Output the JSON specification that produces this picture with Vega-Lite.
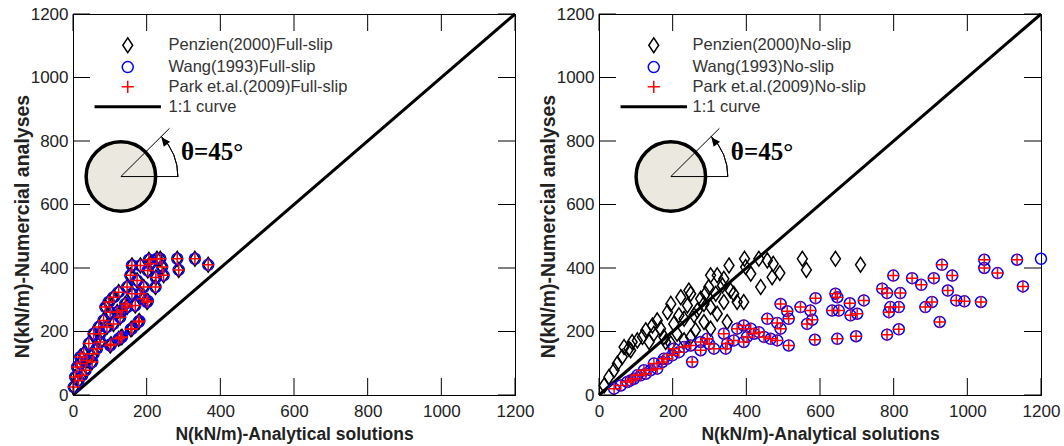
{
"$schema": "https://vega.github.io/schema/vega-lite/v6.json",
"background": "white",
"padding": {"left": 11, "top": 4, "right": 5, "bottom": 2},
"bounds": "flush",
"spacing": 84,
"config": {
  "view": {"stroke": "black", "strokeWidth": 1},
  "axis": {"grid": false, "ticks": false, "domain": true, "domainColor": "black", "domainWidth": 1, "format": "d",
    "labelFont": "Liberation Sans", "labelFontSize": 17, "labelColor": "#222", "labelFlush": false, "labelOverlap": false,
    "titleFont": "Liberation Sans", "titleFontWeight": "bold", "titleColor": "#222"},
  "axisX": {"labelPadding": 8, "titleFontSize": 17.5, "titleBaseline": "alphabetic", "titleY": 44},
  "axisY": {"labelPadding": 5, "titleFontSize": 19.5, "titleBaseline": "alphabetic", "titleX": -45, "titleY": 212}
},
"datasets": {
  "one": [{}],
  "tickvals": [{"v":0},{"v":200},{"v":400},{"v":600},{"v":800},{"v":1000},{"v":1200}],
  "left": [
    {"x":367,"y":410},{"x":331,"y":429},{"x":283,"y":429},{"x":287,"y":394},{"x":237,"y":429},{"x":228,"y":429},{"x":206,"y":426},{"x":183,"y":408},{"x":203,"y":392},{"x":242,"y":403},
    {"x":246,"y":377},{"x":224,"y":340},{"x":156,"y":377},{"x":174,"y":361},{"x":192,"y":340},{"x":183,"y":319},{"x":201,"y":293},{"x":160,"y":319},{"x":147,"y":340},{"x":124,"y":324},
    {"x":97,"y":293},{"x":110,"y":308},{"x":142,"y":287},{"x":120,"y":261},{"x":101,"y":261},{"x":83,"y":235},{"x":92,"y":214},{"x":70,"y":214},{"x":56,"y":193},{"x":43,"y":162},
    {"x":29,"y":130},{"x":20,"y":99},{"x":6,"y":57},{"x":2,"y":25},{"x":178,"y":230},{"x":160,"y":209},{"x":133,"y":183},{"x":101,"y":156},{"x":124,"y":177},{"x":74,"y":167},
    {"x":52,"y":104},{"x":34,"y":78},{"x":15,"y":46},{"x":65,"y":146},{"x":147,"y":277},{"x":169,"y":282},{"x":192,"y":303},{"x":128,"y":245},{"x":110,"y":224},{"x":74,"y":193},
    {"x":56,"y":130},{"x":38,"y":109},{"x":210,"y":413},{"x":160,"y":408},{"x":133,"y":266},{"x":88,"y":277},{"x":20,"y":120},{"x":11,"y":88},{"x":25,"y":62},{"x":225,"y":370},
    {"x":203,"y":296},{"x":180,"y":233},{"x":157,"y":207},{"x":130,"y":181},{"x":103,"y":160}
  ],
  "rightP": [
    {"x":642,"y":429},{"x":710,"y":410},{"x":552,"y":429},{"x":563,"y":394},{"x":491,"y":384},{"x":470,"y":371},{"x":473,"y":413},{"x":457,"y":424},{"x":434,"y":429},{"x":412,"y":382},
    {"x":395,"y":429},{"x":398,"y":403},{"x":439,"y":340},{"x":393,"y":293},{"x":375,"y":293},{"x":357,"y":329},{"x":353,"y":408},{"x":339,"y":366},{"x":321,"y":377},{"x":303,"y":377},
    {"x":298,"y":340},{"x":289,"y":319},{"x":339,"y":293},{"x":321,"y":256},{"x":348,"y":230},{"x":303,"y":277},{"x":276,"y":303},{"x":249,"y":319},{"x":244,"y":329},{"x":222,"y":308},
    {"x":195,"y":287},{"x":186,"y":261},{"x":217,"y":251},{"x":258,"y":251},{"x":285,"y":230},{"x":262,"y":204},{"x":249,"y":183},{"x":303,"y":209},{"x":203,"y":224},{"x":167,"y":209},
    {"x":145,"y":219},{"x":149,"y":193},{"x":118,"y":183},{"x":104,"y":172},{"x":90,"y":167},{"x":81,"y":146},{"x":63,"y":120},{"x":50,"y":99},{"x":41,"y":78},{"x":27,"y":57},
    {"x":14,"y":30},{"x":176,"y":183},{"x":195,"y":162},{"x":212,"y":193},{"x":231,"y":240},{"x":158,"y":235},{"x":127,"y":204},{"x":86,"y":141},{"x":68,"y":151},{"x":231,"y":172},
    {"x":267,"y":266},{"x":240,"y":282},{"x":181,"y":167},{"x":136,"y":167},{"x":285,"y":287},{"x":317,"y":319},{"x":366,"y":319},{"x":335,"y":345}
  ],
  "rightWK": [
    {"x":1200,"y":429},{"x":1135,"y":426},{"x":1151,"y":342},{"x":1082,"y":384},{"x":1046,"y":426},{"x":1046,"y":400},{"x":1037,"y":293},{"x":992,"y":295},{"x":970,"y":298},{"x":947,"y":329},
    {"x":959,"y":376},{"x":931,"y":410},{"x":909,"y":368},{"x":904,"y":293},{"x":886,"y":277},{"x":925,"y":230},{"x":875,"y":347},{"x":850,"y":368},{"x":799,"y":376},{"x":818,"y":321},
    {"x":782,"y":321},{"x":769,"y":335},{"x":791,"y":277},{"x":814,"y":277},{"x":787,"y":261},{"x":814,"y":207},{"x":782,"y":190},{"x":719,"y":298},{"x":681,"y":289},{"x":701,"y":256},
    {"x":683,"y":251},{"x":642,"y":319},{"x":647,"y":308},{"x":633,"y":266},{"x":651,"y":266},{"x":698,"y":185},{"x":647,"y":177},{"x":586,"y":174},{"x":588,"y":305},{"x":565,"y":224},
    {"x":579,"y":237},{"x":574,"y":266},{"x":547,"y":277},{"x":515,"y":240},{"x":515,"y":156},{"x":511,"y":264},{"x":493,"y":287},{"x":484,"y":227},{"x":484,"y":172},{"x":493,"y":209},
    {"x":457,"y":240},{"x":448,"y":183},{"x":466,"y":177},{"x":434,"y":198},{"x":412,"y":209},{"x":393,"y":219},{"x":375,"y":209},{"x":393,"y":167},{"x":366,"y":172},{"x":339,"y":193},
    {"x":348,"y":162},{"x":344,"y":146},{"x":312,"y":146},{"x":294,"y":177},{"x":276,"y":167},{"x":276,"y":141},{"x":253,"y":104},{"x":249,"y":156},{"x":231,"y":151},{"x":217,"y":135},
    {"x":199,"y":125},{"x":185,"y":114},{"x":172,"y":104},{"x":158,"y":83},{"x":140,"y":78},{"x":127,"y":67},{"x":113,"y":62},{"x":95,"y":51},{"x":77,"y":41},{"x":59,"y":30},
    {"x":41,"y":20},{"x":203,"y":146},{"x":176,"y":114},{"x":149,"y":99},{"x":122,"y":78},{"x":104,"y":62},{"x":86,"y":46},{"x":402,"y":183},{"x":421,"y":193},{"x":299,"y":161}
  ]
},
"hconcat": [
  {
    "width": 442, "height": 381,
    "layer": [
      {"data": {"name": "one"}, "mark": {"type": "rule", "strokeWidth": 3, "color": "black"},
       "encoding": {
         "x": {"datum": 0, "type": "quantitative", "scale": {"domain": [0, 1200], "nice": false, "zero": false}, "axis": {"title": "N(kN/m)-Analytical solutions", "values": [0,200,400,600,800,1000,1200], "format": "d"}},
         "y": {"datum": 0, "type": "quantitative", "scale": {"domain": [0, 1200], "nice": false, "zero": false}, "axis": {"title": "N(kN/m)-Numercial analyses", "values": [0,200,400,600,800,1000,1200], "format": "d"}},
         "x2": {"datum": 1200}, "y2": {"datum": 1200}}},
      {"data": {"name": "one"}, "mark": {"type": "point", "shape": "circle", "filled": true, "fill": "#ebe9df", "stroke": "black", "strokeWidth": 3.5, "size": 4830, "opacity": 1},
       "encoding": {"x": {"datum": 130, "type": "quantitative"}, "y": {"datum": 688, "type": "quantitative"}}},
      {"data": {"name": "one"}, "mark": {"type": "rule", "strokeWidth": 1, "color": "black"},
       "encoding": {"x": {"datum": 130, "type": "quantitative"}, "y": {"datum": 688, "type": "quantitative"}, "x2": {"datum": 262}, "y2": {"datum": 840}}},
      {"data": {"name": "one"}, "mark": {"type": "rule", "strokeWidth": 1, "color": "black"},
       "encoding": {"x": {"datum": 130, "type": "quantitative"}, "y": {"datum": 688, "type": "quantitative"}, "x2": {"datum": 286}}},
      {"data": {"name": "one"}, "mark": {"type": "arc", "radius": 57, "radius2": 57, "theta": 0.785, "theta2": 1.5708, "filled": false, "stroke": "black", "strokeWidth": 1},
       "encoding": {"x": {"datum": 130, "type": "quantitative"}, "y": {"datum": 688, "type": "quantitative"}}},
      {"data": {"name": "one"}, "mark": {"type": "point", "shape": "M0,-1.2L0.8,0.6L-0.8,0.6Z", "filled": true, "color": "black", "size": 100, "angle": 322, "opacity": 1},
       "encoding": {"x": {"datum": 250, "type": "quantitative"}, "y": {"datum": 797, "type": "quantitative"}}},
      {"data": {"name": "one"}, "mark": {"type": "text", "text": "θ=45°", "font": "Liberation Serif", "fontSize": 25, "fontWeight": "bold", "align": "left", "baseline": "alphabetic", "color": "black"},
       "encoding": {"x": {"datum": 293, "type": "quantitative"}, "y": {"datum": 739, "type": "quantitative"}}},
      {"data": {"name": "left"},
       "mark": {"type": "point", "filled": false, "strokeWidth": 1.5, "size": 121, "opacity": 1},
       "encoding": {
         "x": {"field": "x", "type": "quantitative"}, "y": {"field": "y", "type": "quantitative"},
         "color": {"datum": "Penzien(2000)Full-slip", "type": "nominal",
           "scale": {"domain": ["Penzien(2000)Full-slip", "Wang(1993)Full-slip", "Park et.al.(2009)Full-slip", "1:1 curve"], "range": ["#000000", "#0000ff", "#ff0000", "#000000"]},
           "legend": {"orient": "none", "legendX": 46.5, "legendY": 23, "title": null, "padding": 0, "labelFont": "Liberation Sans", "labelFontSize": 16.5, "labelColor": "#333", "labelLimit": 400, "symbolSize": 121, "symbolStrokeWidth": 1.5, "labelOffset": 32.5, "rowPadding": 1.8}},
         "shape": {"datum": "Penzien(2000)Full-slip", "type": "nominal",
           "scale": {"domain": ["Penzien(2000)Full-slip", "Wang(1993)Full-slip", "Park et.al.(2009)Full-slip", "1:1 curve"], "range": ["M0,-1.35L0.9,0L0,1.35L-0.9,0Z", "circle", "M-1.1,0H1.1M0,-1.1V1.1", "M-5.9,-0.14H5.9V0.14H-5.9Z"]},
           "legend": {"orient": "none", "legendX": 46.5, "legendY": 23, "title": null, "padding": 0, "labelFont": "Liberation Sans", "labelFontSize": 16.5, "labelColor": "#333", "labelLimit": 400, "symbolSize": 121, "symbolStrokeWidth": 1.5, "labelOffset": 32.5, "rowPadding": 1.8}}}},
      {"data": {"name": "left"},
       "mark": {"type": "point", "filled": false, "strokeWidth": 1.5, "size": 121, "opacity": 1},
       "encoding": {
         "x": {"field": "x", "type": "quantitative"}, "y": {"field": "y", "type": "quantitative"},
         "color": {"datum": "Wang(1993)Full-slip", "type": "nominal"},
         "shape": {"datum": "Wang(1993)Full-slip", "type": "nominal"}}},
      {"data": {"name": "left"},
       "mark": {"type": "point", "filled": false, "strokeWidth": 1.5, "size": 121, "opacity": 1},
       "encoding": {
         "x": {"field": "x", "type": "quantitative"}, "y": {"field": "y", "type": "quantitative"},
         "color": {"datum": "Park et.al.(2009)Full-slip", "type": "nominal"},
         "shape": {"datum": "Park et.al.(2009)Full-slip", "type": "nominal"}}},
      {"data": {"name": "tickvals"}, "mark": {"type": "rule", "color": "black", "strokeWidth": 1, "strokeDash": [17, 347], "opacity": 1},
       "encoding": {"x": {"field": "v", "type": "quantitative"}}},
      {"data": {"name": "tickvals"}, "mark": {"type": "rule", "color": "black", "strokeWidth": 1, "strokeDash": [17, 408], "opacity": 1},
       "encoding": {"y": {"field": "v", "type": "quantitative"}}}
    ]
  },
  {
    "width": 442, "height": 381,
    "layer": [
      {"data": {"name": "one"}, "mark": {"type": "rule", "strokeWidth": 3, "color": "black"},
       "encoding": {
         "x": {"datum": 0, "type": "quantitative", "scale": {"domain": [0, 1200], "nice": false, "zero": false}, "axis": {"title": "N(kN/m)-Analytical solutions", "values": [0,200,400,600,800,1000,1200], "format": "d"}},
         "y": {"datum": 0, "type": "quantitative", "scale": {"domain": [0, 1200], "nice": false, "zero": false}, "axis": {"title": "N(kN/m)-Numercial analyses", "values": [0,200,400,600,800,1000,1200], "format": "d"}},
         "x2": {"datum": 1200}, "y2": {"datum": 1200}}},
      {"data": {"name": "one"}, "mark": {"type": "point", "shape": "circle", "filled": true, "fill": "#ebe9df", "stroke": "black", "strokeWidth": 3.5, "size": 4830, "opacity": 1},
       "encoding": {"x": {"datum": 195, "type": "quantitative"}, "y": {"datum": 688, "type": "quantitative"}}},
      {"data": {"name": "one"}, "mark": {"type": "rule", "strokeWidth": 1, "color": "black"},
       "encoding": {"x": {"datum": 195, "type": "quantitative"}, "y": {"datum": 688, "type": "quantitative"}, "x2": {"datum": 327}, "y2": {"datum": 840}}},
      {"data": {"name": "one"}, "mark": {"type": "rule", "strokeWidth": 1, "color": "black"},
       "encoding": {"x": {"datum": 195, "type": "quantitative"}, "y": {"datum": 688, "type": "quantitative"}, "x2": {"datum": 350}}},
      {"data": {"name": "one"}, "mark": {"type": "arc", "radius": 57, "radius2": 57, "theta": 0.785, "theta2": 1.5708, "filled": false, "stroke": "black", "strokeWidth": 1},
       "encoding": {"x": {"datum": 195, "type": "quantitative"}, "y": {"datum": 688, "type": "quantitative"}}},
      {"data": {"name": "one"}, "mark": {"type": "point", "shape": "M0,-1.2L0.8,0.6L-0.8,0.6Z", "filled": true, "color": "black", "size": 100, "angle": 322, "opacity": 1},
       "encoding": {"x": {"datum": 315, "type": "quantitative"}, "y": {"datum": 797, "type": "quantitative"}}},
      {"data": {"name": "one"}, "mark": {"type": "text", "text": "θ=45°", "font": "Liberation Serif", "fontSize": 25, "fontWeight": "bold", "align": "left", "baseline": "alphabetic", "color": "black"},
       "encoding": {"x": {"datum": 358, "type": "quantitative"}, "y": {"datum": 739, "type": "quantitative"}}},
      {"data": {"name": "rightP"},
       "mark": {"type": "point", "filled": false, "strokeWidth": 1.5, "size": 121, "opacity": 1},
       "encoding": {
         "x": {"field": "x", "type": "quantitative"}, "y": {"field": "y", "type": "quantitative"},
         "color": {"datum": "Penzien(2000)No-slip", "type": "nominal",
           "scale": {"domain": ["Penzien(2000)No-slip", "Wang(1993)No-slip", "Park et.al.(2009)No-slip", "1:1 curve"], "range": ["#000000", "#0000ff", "#ff0000", "#000000"]},
           "legend": {"orient": "none", "legendX": 46.5, "legendY": 23, "title": null, "padding": 0, "labelFont": "Liberation Sans", "labelFontSize": 16.5, "labelColor": "#333", "labelLimit": 400, "symbolSize": 121, "symbolStrokeWidth": 1.5, "labelOffset": 30.5, "rowPadding": 1.8}},
         "shape": {"datum": "Penzien(2000)No-slip", "type": "nominal",
           "scale": {"domain": ["Penzien(2000)No-slip", "Wang(1993)No-slip", "Park et.al.(2009)No-slip", "1:1 curve"], "range": ["M0,-1.35L0.9,0L0,1.35L-0.9,0Z", "circle", "M-1.1,0H1.1M0,-1.1V1.1", "M-5.9,-0.14H5.9V0.14H-5.9Z"]},
           "legend": {"orient": "none", "legendX": 46.5, "legendY": 23, "title": null, "padding": 0, "labelFont": "Liberation Sans", "labelFontSize": 16.5, "labelColor": "#333", "labelLimit": 400, "symbolSize": 121, "symbolStrokeWidth": 1.5, "labelOffset": 30.5, "rowPadding": 1.8}}}},
      {"data": {"name": "rightWK"},
       "mark": {"type": "point", "filled": false, "strokeWidth": 1.5, "size": 121, "opacity": 1},
       "encoding": {
         "x": {"field": "x", "type": "quantitative"}, "y": {"field": "y", "type": "quantitative"},
         "color": {"datum": "Wang(1993)No-slip", "type": "nominal"},
         "shape": {"datum": "Wang(1993)No-slip", "type": "nominal"}}},
      {"data": {"name": "rightWK"},
       "transform": [{"filter": "datum.x < 1190"}],
       "mark": {"type": "point", "filled": false, "strokeWidth": 1.5, "size": 121, "opacity": 1},
       "encoding": {
         "x": {"field": "x", "type": "quantitative"}, "y": {"field": "y", "type": "quantitative"},
         "color": {"datum": "Park et.al.(2009)No-slip", "type": "nominal"},
         "shape": {"datum": "Park et.al.(2009)No-slip", "type": "nominal"}}},
      {"data": {"name": "tickvals"}, "mark": {"type": "rule", "color": "black", "strokeWidth": 1, "strokeDash": [17, 347], "opacity": 1},
       "encoding": {"x": {"field": "v", "type": "quantitative"}}},
      {"data": {"name": "tickvals"}, "mark": {"type": "rule", "color": "black", "strokeWidth": 1, "strokeDash": [17, 408], "opacity": 1},
       "encoding": {"y": {"field": "v", "type": "quantitative"}}}
    ]
  }
],
"resolve": {"scale": {"color": "independent", "shape": "independent", "x": "independent", "y": "independent"}, "legend": {"color": "independent", "shape": "independent"}}
}
